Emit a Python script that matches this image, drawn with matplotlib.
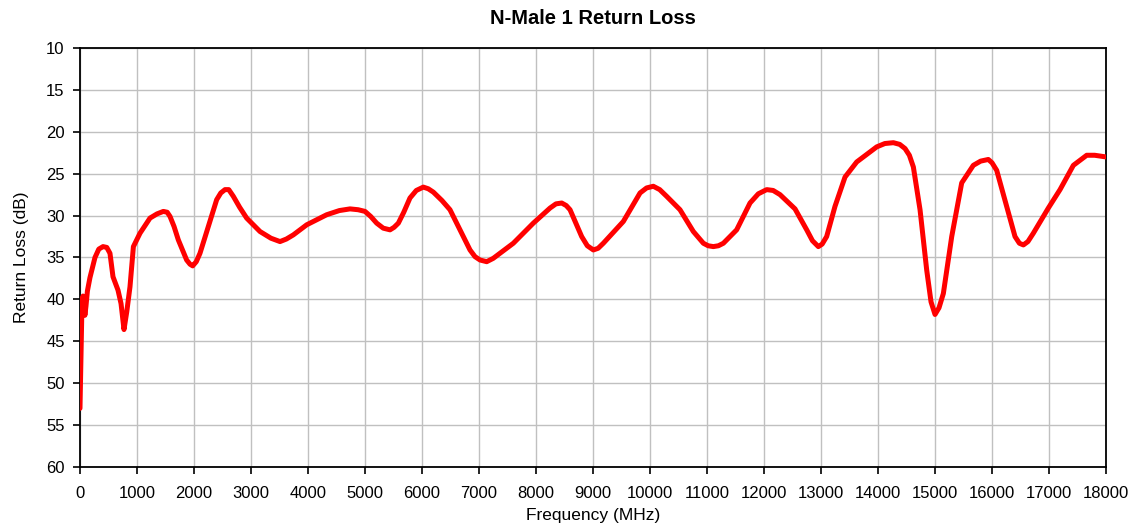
import matplotlib
matplotlib.use("Agg")
import matplotlib.pyplot as plt

plt.rcParams['font.family'] = ['Liberation Sans', 'DejaVu Sans']

# Frequence (MHz) et perte de retour (dB)
freq = [0, 20, 35, 53, 70, 86, 105, 130, 175, 220, 263, 330, 404, 470, 526,
        579, 667, 720, 772, 820, 877, 937, 1053, 1228, 1350, 1462, 1530,
        1579, 1650, 1725, 1871, 1930, 1977, 2040, 2105, 2251, 2398, 2470,
        2544, 2610, 2690, 2800, 2924, 3158, 3350, 3509, 3620, 3743, 3977,
        4327, 4550, 4737, 4880, 5000, 5100, 5205, 5320, 5439, 5510, 5585,
        5680, 5789, 5900, 6023, 6110, 6199, 6350, 6491, 6667, 6842, 6930,
        7018, 7135, 7250, 7368, 7602, 7953, 8246, 8350, 8451, 8530, 8597,
        8700, 8801, 8900, 9006, 9090, 9181, 9532, 9825, 9940, 10058, 10170,
        10292, 10526, 10760, 10936, 11020, 11111, 11200, 11287, 11520, 11754,
        11900, 12047, 12160, 12281, 12544, 12749, 12850, 12953, 13020, 13099,
        13245, 13421, 13626, 13977, 14120, 14269, 14380, 14474, 14550, 14620,
        14737, 14854, 14930, 15000, 15070, 15146, 15293, 15468, 15672, 15800,
        15935, 16000, 16082, 16257, 16403, 16480, 16550, 16630, 16725, 16988,
        17193, 17427, 17661, 17800, 17900, 18000]
rl = [53.0, 46.0, 40.5, 39.6, 40.5, 41.9, 40.8, 39.0, 37.4, 36.2, 35.0, 34.0,
      33.7, 33.8, 34.5, 37.3, 38.9, 40.5, 43.6, 41.5, 38.5, 33.7, 32.1, 30.3,
      29.8, 29.5, 29.6, 30.1, 31.3, 32.9, 35.3, 35.8, 36.0, 35.5, 34.5, 31.3,
      28.1, 27.3, 26.9, 26.9, 27.7, 29.0, 30.3, 31.9, 32.7, 33.1, 32.8, 32.3,
      31.1, 29.9, 29.4, 29.2, 29.3, 29.5, 30.1, 30.9, 31.5, 31.7, 31.4, 30.9,
      29.6, 27.9, 27.0, 26.6, 26.8, 27.2, 28.2, 29.3, 31.7, 34.1, 34.9, 35.3,
      35.5, 35.1, 34.5, 33.3, 30.9, 29.1, 28.6, 28.5, 28.8, 29.3, 30.9, 32.5,
      33.6, 34.1, 33.9, 33.3, 30.7, 27.3, 26.7, 26.5, 26.9, 27.7, 29.3, 31.9,
      33.3, 33.6, 33.7, 33.6, 33.3, 31.7, 28.5, 27.4, 26.9, 27.0, 27.5, 29.2,
      31.7, 33.0, 33.7, 33.4, 32.5, 28.9, 25.4, 23.6, 21.8, 21.4, 21.3, 21.5,
      22.0, 22.8, 24.2, 29.3, 36.5, 40.3, 41.8, 41.0, 39.3, 32.5, 26.1, 24.0,
      23.5, 23.3, 23.7, 24.6, 28.9, 32.5, 33.3, 33.5, 33.1, 32.1, 29.1, 26.9,
      24.0, 22.8, 22.8, 22.9, 23.0]

x_ticks = list(range(0, 18001, 1000))
y_ticks = list(range(10, 61, 5))

fig = plt.figure(figsize=(11.33, 5.24), dpi=100)
ax = fig.add_axes([0.0706, 0.1088, 0.9056, 0.7996])

ax.plot(freq, rl, color='#ff0000', lw=3.6, solid_capstyle='round',
        solid_joinstyle='round', zorder=3)

ax.set_xlim(0, 18000)
ax.set_ylim(60, 10)
ax.set_xticks(x_ticks)
ax.set_yticks(y_ticks)
ax.grid(True, color='#c0c0c0', lw=1.0)
ax.set_axisbelow(True)
for s in ax.spines.values():
    s.set_color('black')
    s.set_linewidth(1.3)
ax.tick_params(direction='out', length=5, width=1.2, labelsize=12)
ax.tick_params(axis='x', pad=9)
ax.tick_params(axis='y', pad=6)

ax.set_title("N-Male 1 Return Loss", fontsize=14.5, fontweight='bold', pad=17)
ax.set_xlabel("Frequency (MHz)", fontsize=12.5, labelpad=5)
ax.set_ylabel("Return Loss (dB)", fontsize=12.5, labelpad=12)

fig.savefig("out.png", dpi=100)
